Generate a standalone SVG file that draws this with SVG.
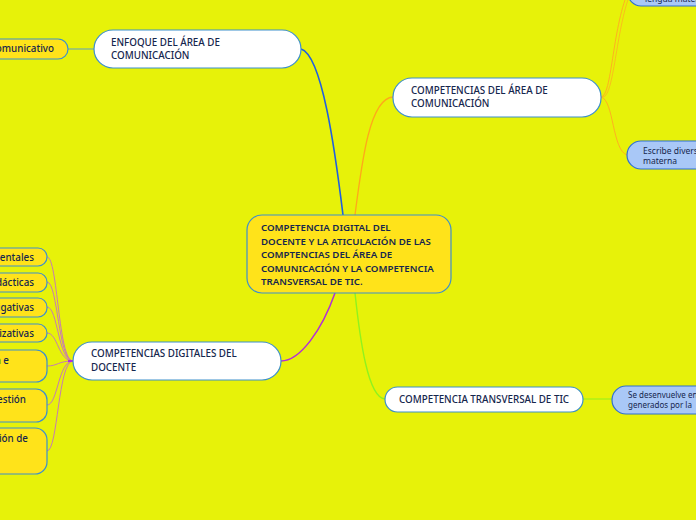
<svg xmlns="http://www.w3.org/2000/svg" width="696" height="520" viewBox="0 0 696 520">
<style>
.t{font-family:"Noto Sans","Open Sans","DejaVu Sans",sans-serif;fill:#15264d;font-size:9.8px;font-weight:500}
.s{font-size:8.5px;font-weight:normal}
.s2{font-size:8px;font-weight:normal}
.c{font-weight:600;font-size:9.7px}
.w{fill:#ffffff;stroke:#3d8fcc;stroke-width:1.2}
.g{fill:#ffe31a;stroke:#3d8fcc;stroke-width:1.2}
.b{fill:#a9c8f7;stroke:#2f6fd2;stroke-width:1.2}
.l{fill:none}
</style>
<rect width="696" height="520" fill="#e7f209"/>
<g id="connectors" class="l">
<path d="M343,215 C335,150 322,55 301,49" stroke="#1f5fe0" stroke-width="1.6"/>
<path d="M68,49 L94,49" stroke="#5a9fc8" stroke-width="1"/>
<path d="M355,215 C362,160 370,98 393,97" stroke="#ffa81a" stroke-width="1.3"/>
<path d="M601,97 C612,96 612,30 628,-8" stroke="#ffb020" stroke-width="1"/>
<path d="M603,97 C614,96 616,30 630,-6" stroke="#ffb020" stroke-width="0.8"/>
<path d="M601,97 C614,100 612,150 627,155" stroke="#ffb020" stroke-width="1"/>
<path d="M335,293 C322,330 300,361 281,361" stroke="#b32fd6" stroke-width="1.5"/>
<path d="M355,293 C360,340 368,398 385,399" stroke="#8ff21e" stroke-width="1.4"/>
<path d="M583,399 L612,399" stroke="#8ff21e" stroke-width="1"/>
<g stroke="#c77ab5" stroke-width="1">
<path d="M73,361 C58,361 58,257 47,257"/>
<path d="M73,361 C58,361 58,282 47,282"/>
<path d="M73,361 C58,361 58,307 47,307"/>
<path d="M73,361 C58,361 58,333 47,333"/>
<path d="M73,361 C58,361 58,366 47,366"/>
<path d="M73,361 C58,361 58,405 47,405"/>
<path d="M73,361 C58,361 58,451 47,451"/>
</g>
<path d="M68,361 L74,361" stroke="#b32fd6" stroke-width="2"/>
</g>
<g id="central">
<rect class="g" x="247" y="215" width="204" height="78" rx="15"/>
<text class="t c" x="261" y="231">COMPETENCIA DIGITAL DEL</text>
<text class="t c" x="261" y="244.5">DOCENTE Y LA ATICULACIÓN DE LAS</text>
<text class="t c" x="261" y="258">COMPTENCIAS DEL ÁREA DE</text>
<text class="t c" x="261" y="271.5">COMUNICACIÓN Y LA COMPETENCIA</text>
<text class="t c" x="261" y="285">TRANSVERSAL DE TIC.</text>
</g>
<g id="enfoque">
<rect class="w" x="94" y="30" width="207" height="38" rx="19"/>
<text class="t" x="111" y="46">ENFOQUE DEL ÁREA DE</text>
<text class="t" x="111" y="59">COMUNICACIÓN</text>
</g>
<g id="comunicativo">
<rect class="g" x="-40" y="39" width="108" height="20" rx="10"/>
<text class="t" x="54" y="52" text-anchor="end">comunicativo</text>
</g>
<g id="comp-area">
<rect class="w" x="393" y="78" width="208" height="39" rx="19"/>
<text class="t" x="411" y="94">COMPETENCIAS DEL ÁREA DE</text>
<text class="t" x="411" y="107">COMUNICACIÓN</text>
</g>
<g id="lengua">
<rect class="b" x="628" y="-30" width="100" height="36" rx="13"/>
<text class="t s" x="645" y="2">lengua materna</text>
</g>
<g id="escribe">
<rect class="b" x="627" y="141" width="100" height="28" rx="14"/>
<text class="t s" x="643" y="154">Escribe diversos</text>
<text class="t s" x="643" y="164">materna</text>
</g>
<g id="digitales">
<rect class="w" x="73" y="342" width="208" height="38" rx="19"/>
<text class="t" x="91" y="357">COMPETENCIAS DIGITALES DEL</text>
<text class="t" x="91" y="371">DOCENTE</text>
</g>
<g id="d1"><rect class="g" x="-60" y="248" width="107" height="18" rx="9"/><text class="t" x="34" y="261" text-anchor="end">mentales</text></g>
<g id="d2"><rect class="g" x="-60" y="273" width="107" height="19" rx="9"/><text class="t" x="34" y="286" text-anchor="end">didácticas</text></g>
<g id="d3"><rect class="g" x="-60" y="298" width="107" height="19" rx="9"/><text class="t" x="34" y="311" text-anchor="end">stigativas</text></g>
<g id="d4"><rect class="g" x="-60" y="324" width="107" height="18" rx="9"/><text class="t" x="34" y="337" text-anchor="end">anizativas</text></g>
<g id="d5"><rect class="g" x="-60" y="350" width="107" height="32" rx="11"/><text class="t" x="9" y="364" text-anchor="end">ón e</text></g>
<g id="d6"><rect class="g" x="-60" y="389" width="107" height="33" rx="11"/><text class="t" x="26" y="403" text-anchor="end">gestión</text></g>
<g id="d7"><rect class="g" x="-60" y="428" width="107" height="46" rx="12"/><text class="t" x="28" y="442" text-anchor="end">ación de</text></g>
<g id="transversal">
<rect class="w" x="385" y="387" width="198" height="25" rx="12.5"/>
<text class="t" x="399" y="403">COMPETENCIA TRANSVERSAL DE TIC</text>
</g>
<g id="desenvuelve">
<rect class="b" x="612" y="386" width="110" height="28" rx="14"/>
<text class="t s2" x="628" y="398">Se desenvuelve en</text>
<text class="t s2" x="628" y="408">generados por la</text>
</g>
</svg>
